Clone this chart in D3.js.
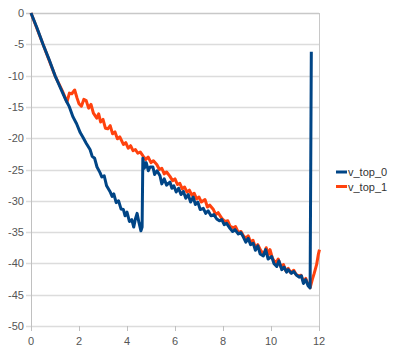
<!DOCTYPE html>
<html>
<head>
<meta charset="utf-8">
<script src="https://cdn.jsdelivr.net/npm/d3@7"></script>
<style>
  body { margin: 0; background: #fff; }
  svg { display: block; font-family: "Liberation Sans", Arial, sans-serif; }
</style>
</head>
<body>
<div id="chart"></div>
<script>
// series names and axis ticks
const seriesNames = ["v_top_0", "v_top_1"];
const xTicks = [0, 2, 4, 6, 8, 10, 12];
const yTicks = [0, -5, -10, -15, -20, -25, -30, -35, -40, -45, -50];

// v_top_0
const top0X = [0, 0.25, 0.5, 0.75, 1.0, 1.15, 1.3, 1.45, 1.6, 1.75, 1.9, 2.05, 2.17, 2.3, 2.46, 2.55, 2.65, 2.75, 2.875, 2.95,
  3.05, 3.15, 3.29, 3.38, 3.45, 3.55, 3.65, 3.75, 3.85, 3.92, 4.0, 4.1, 4.2, 4.28, 4.35, 4.42, 4.5, 4.58, 4.63, 4.66,
  4.72, 4.8, 4.89, 4.96, 5.08, 5.15, 5.25, 5.375, 5.45, 5.55, 5.65, 5.79, 5.87, 5.95, 6.05, 6.15, 6.25, 6.35, 6.45, 6.55,
  6.65, 6.76, 6.85, 6.95, 7.05, 7.18, 7.28, 7.38, 7.5, 7.62, 7.74, 7.85, 7.95, 8.05, 8.15, 8.29, 8.4, 8.5, 8.64, 8.75,
  8.85, 8.95, 9.05, 9.15, 9.26, 9.35, 9.45, 9.55, 9.68, 9.78, 9.88, 10.03, 10.12, 10.24, 10.33, 10.45, 10.55, 10.65, 10.72, 10.85,
  10.95, 11.07, 11.17, 11.27, 11.35, 11.45, 11.55, 11.63, 11.68];
const top0Y = [0, -2.4, -5.0, -7.4, -10.0, -11.3, -12.6, -13.9, -15.0, -16.6, -17.7, -19.1, -19.9, -20.8, -21.8, -22.9, -23.2, -24.6, -25.5, -26.2,
  -26.0, -27.6, -28.5, -29.3, -28.9, -30.3, -30.0, -31.3, -31.4, -32.4, -31.8, -33.3, -33.0, -34.2, -32.9, -32.0, -33.5, -34.8, -34.2, -23.2,
  -24.8, -23.9, -25.2, -24.6, -24.6, -25.8, -25.2, -26.0, -27.3, -26.5, -27.5, -27.0, -28.0, -27.6, -28.6, -28.0, -29.0, -28.5, -29.6, -29.0,
  -30.2, -29.4, -30.6, -30.2, -31.4, -31.2, -32.0, -31.6, -32.4, -32.2, -32.9, -33.2, -33.0, -33.8, -33.6, -34.4, -34.9, -34.6, -35.3, -35.1,
  -35.8, -36.6, -36.0, -37.0, -36.8, -37.9, -37.2, -38.5, -38.8, -37.8, -39.3, -38.9, -40.0, -40.5, -39.6, -41.0, -40.6, -41.4, -41.0, -41.6,
  -41.3, -41.9, -42.2, -42.0, -43.2, -42.6, -43.6, -43.9, -6.2];

// v_top_1
const top1X = [0, 0.5, 1.0, 1.3, 1.5, 1.6, 1.7, 1.82, 1.92, 2.0, 2.1, 2.2, 2.3, 2.4, 2.5, 2.6, 2.74, 2.82, 2.9, 3.0,
  3.1, 3.2, 3.3, 3.4, 3.5, 3.6, 3.7, 3.85, 3.95, 4.05, 4.15, 4.25, 4.35, 4.45, 4.55, 4.68, 4.78, 4.88, 5.0, 5.1,
  5.24, 5.35, 5.45, 5.55, 5.65, 5.79, 5.9, 6.0, 6.1, 6.2, 6.3, 6.4, 6.5, 6.6, 6.7, 6.8, 6.9, 7.0, 7.1, 7.25,
  7.35, 7.45, 7.6, 7.7, 7.8, 7.95, 8.08, 8.2, 8.3, 8.42, 8.52, 8.64, 8.75, 8.85, 8.95, 9.05, 9.15, 9.25, 9.35, 9.45,
  9.58, 9.7, 9.8, 9.9, 9.96, 10.06, 10.2, 10.3, 10.42, 10.52, 10.62, 10.72, 10.82, 10.95, 11.05, 11.15, 11.25, 11.35, 11.45, 11.55,
  11.63, 11.72, 11.8, 11.9, 11.97, 12.02];
const top1Y = [0, -5.0, -10.0, -12.4, -14.2, -12.8, -12.9, -12.3, -13.6, -14.5, -14.9, -13.8, -14.0, -15.2, -14.6, -16.0, -16.8, -16.1, -17.4, -17.0,
  -18.4, -18.5, -18.0, -19.3, -19.0, -20.1, -19.8, -21.0, -20.7, -21.6, -21.2, -22.0, -21.8, -22.4, -22.2, -22.9, -23.4, -23.0, -23.9, -23.6,
  -24.2, -25.0, -24.8, -25.7, -25.4, -26.1, -26.8, -26.5, -27.4, -27.2, -28.1, -27.8, -28.6, -28.3, -29.1, -28.8, -29.7, -29.4, -30.2, -29.8,
  -31.0, -30.7, -31.4, -32.2, -31.9, -32.8, -33.3, -33.2, -34.1, -34.3, -34.1, -35.1, -34.9, -35.6, -36.0, -35.6, -36.6, -36.3, -37.5, -37.0,
  -38.0, -38.5, -37.5, -38.6, -37.8, -39.2, -40.0, -39.3, -40.6, -40.2, -41.2, -40.8, -41.5, -41.1, -41.8, -42.0, -41.9, -42.9, -42.4, -43.4,
  -43.9, -42.6, -41.6, -40.2, -38.6, -37.8];

const colors = ["#004586", "#ff420e"];

const W = 400, H = 363;
const plot = { left: 31, right: 319, top: 13, bottom: 326 };

const svg = d3.select("#chart").append("svg")
  .attr("width", W)
  .attr("height", H);

const x = d3.scaleLinear().domain([0, 12]).range([plot.left, plot.right]);
const y = d3.scaleLinear().domain([-50, 0]).range([plot.bottom, plot.top]);

// horizontal grid lines (extend a little left as ticks)
svg.append("g")
  .selectAll("line")
  .data(yTicks)
  .enter()
  .append("line")
  .attr("x1", plot.left - 5)
  .attr("x2", plot.right)
  .attr("y1", d => Math.round(y(d)) + 0.5)
  .attr("y2", d => Math.round(y(d)) + 0.5)
  .style("stroke", d => d === 0 ? "#c8c8c8" : "#dcdcdc")
  .style("stroke-width", 1.5);

// plot frame: left axis, right edge
svg.append("line")
  .attr("x1", plot.left + 0.5).attr("x2", plot.left + 0.5)
  .attr("y1", plot.top).attr("y2", plot.bottom + 5)
  .style("stroke", "#c0c0c0");
svg.append("line")
  .attr("x1", plot.right + 0.5).attr("x2", plot.right + 0.5)
  .attr("y1", plot.top).attr("y2", plot.bottom + 5)
  .style("stroke", "#c8c8c8");

// x ticks
svg.append("g")
  .selectAll("line")
  .data(xTicks)
  .enter()
  .append("line")
  .attr("x1", d => Math.round(x(d)) + 0.5)
  .attr("x2", d => Math.round(x(d)) + 0.5)
  .attr("y1", plot.bottom)
  .attr("y2", plot.bottom + 5)
  .style("stroke", "#c0c0c0");

// x tick labels
svg.append("g")
  .selectAll("text")
  .data(xTicks)
  .enter()
  .append("text")
  .attr("x", d => x(d))
  .attr("y", plot.bottom + 19)
  .attr("text-anchor", "middle")
  .style("font-size", "11px")
  .style("fill", "#555")
  .text(d => d);

// y tick labels
svg.append("g")
  .selectAll("text")
  .data(yTicks)
  .enter()
  .append("text")
  .attr("x", plot.left - 7)
  .attr("y", d => y(d) + 4)
  .attr("text-anchor", "end")
  .style("font-size", "11px")
  .style("fill", "#555")
  .text(d => d);

// lines
const line = d3.line()
  .x(d => x(d[0]))
  .y(d => y(d[1]));

const series = [
  d3.zip(top0X, top0Y),
  d3.zip(top1X, top1Y)
];

// draw v_top_1 first so v_top_0 sits on top
[1, 0].forEach(i => {
  svg.append("path")
    .datum(series[i])
    .attr("d", line)
    .style("fill", "none")
    .style("stroke", colors[i])
    .style("stroke-width", 3)
    .style("stroke-linejoin", "round");
});

// legend
const legend = svg.append("g")
  .attr("transform", "translate(336,172)");

seriesNames.forEach((name, i) => {
  const g = legend.append("g").attr("transform", `translate(0,${i * 14.5})`);
  g.append("line")
    .attr("x1", 0).attr("x2", 11)
    .attr("y1", 0).attr("y2", 0)
    .style("stroke", colors[i])
    .style("stroke-width", 3);
  g.append("text")
    .attr("x", 12)
    .attr("y", 4)
    .style("font-size", "11px")
    .style("fill", "#333")
    .text(name);
});
</script>
</body>
</html>
